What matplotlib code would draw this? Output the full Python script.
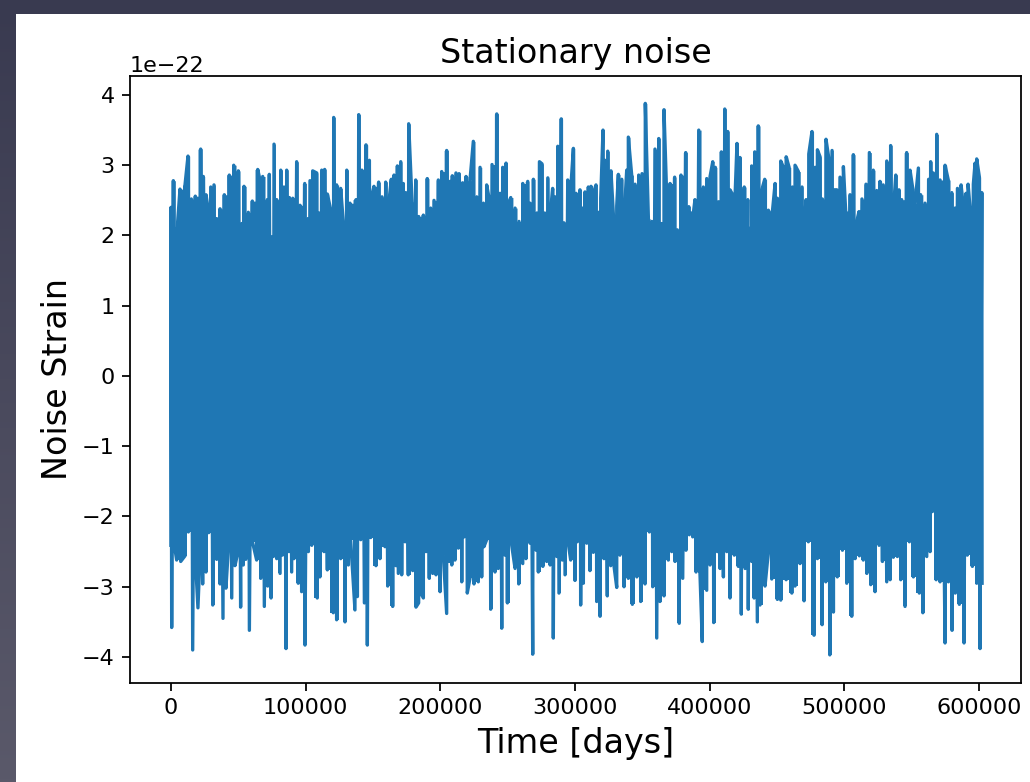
import matplotlib.pyplot as plt
from matplotlib.colors import LinearSegmentedColormap
from matplotlib.patches import Rectangle
import numpy as np

SCALE = 1e-22

top_peaks = [
    (0, 2.40), (1730, 2.78), (4700, 2.13), (6680, 2.66), (10400, 2.72), (12620, 3.13),
    (15100, 2.52), (18060, 2.56), (22030, 3.23), (24000, 2.84), (26000, 2.58), (27700, 2.36),
    (29500, 2.69), (31930, 2.72), (33900, 2.24), (36400, 2.38), (39600, 2.58), (43300, 2.86),
    (46560, 3.00), (50000, 2.92), (52500, 2.17), (54200, 2.70), (57400, 2.33), (60400, 2.49),
    (64400, 2.94), (66300, 2.77), (68100, 2.84), (71500, 2.51), (73000, 2.87), (74800, 1.98),
    (76500, 3.30), (78500, 2.51), (81500, 2.93), (83900, 2.69), (85900, 2.93), (87900, 2.54),
    (90400, 2.53), (93300, 3.05), (95800, 2.43), (99300, 2.74), (101700, 2.24), (103200, 2.78),
    (105200, 2.92), (108200, 2.89), (109900, 2.32), (111900, 2.93), (114100, 2.94), (116100, 2.59),
    (118100, 2.41), (120800, 3.68), (123000, 2.72), (126000, 2.67), (128500, 2.05), (130500, 2.93),
    (132900, 2.46), (137400, 2.51), (139400, 3.72), (141800, 2.93), (144800, 3.29), (147300, 3.07),
    (149000, 2.55), (150700, 2.70), (154200, 2.76), (156700, 2.55), (159400, 2.76), (161700, 2.46),
    (163600, 2.80), (165600, 2.86), (168100, 2.99), (170600, 3.05), (172500, 2.74), (174300, 2.61),
    (176500, 3.59), (179000, 2.48), (181700, 2.79), (183900, 2.27),
    (187400, 2.29), (190300, 2.81), (192800, 2.39), (195300, 2.50), (198500, 2.79), (201000, 2.91),
    (204700, 3.21), (207200, 2.77), (208900, 2.85), (211600, 2.89), (213900, 2.88), (215400, 2.27),
    (216600, 2.75), (219100, 2.84), (222000, 2.78), (224500, 3.34), (227000, 2.55), (229500, 2.97),
    (232000, 2.46), (234400, 2.72), (236400, 2.51), (238400, 3.01), (241900, 3.73), (244300, 2.60),
    (246300, 2.97), (248800, 3.03), (250500, 2.46), (252300, 2.54), (255500, 2.39), (258400, 2.20),
    (261200, 2.74), (264900, 2.77), (266600, 2.46), (269100, 2.80), (271600, 2.32), (273600, 3.05),
    (275500, 3.02), (277500, 2.32), (279800, 2.82), (281500, 2.27), (283400, 2.67), (285200, 2.55),
    (287200, 3.27), (289800, 3.66), (291800, 2.18), (294600, 2.79), (296800, 2.65), (298800, 3.24),
    (300800, 2.60), (303700, 2.65), (305700, 2.39), (307400, 2.62), (309900, 2.69), (311900, 2.70),
    (313600, 2.60), (315600, 2.72), (317600, 2.33), (319100, 2.53), (320800, 3.50), (322300, 3.07),
    (324300, 3.20), (326700, 2.92), (328900, 2.16), (331000, 2.42), (332200, 2.87), (334700, 2.80),
    (336400, 2.22), (338400, 2.93), (339600, 3.40), (342100, 2.86), (344600, 2.73), (347300, 2.86),
    (349800, 2.88), (352200, 3.88), (354500, 2.24), (357000, 2.20), (359400, 3.23), (362200, 3.38),
    (364100, 2.17), (366100, 3.79), (368100, 2.56), (370600, 2.74), (374000, 2.83), (376000, 2.08),
    (378700, 2.86), (382200, 3.18), (384500, 2.41), (386200, 2.32), (387400, 2.24), (389100, 2.51),
    (391900, 3.50),
    (395300, 2.69), (397800, 2.81), (400300, 2.84), (402300, 3.05), (404200, 2.97), (406500, 2.48),
    (408700, 3.19), (411200, 3.80), (413400, 3.48), (415100, 2.65), (417100, 2.58), (418600, 2.42),
    (420300, 3.31), (422500, 3.11), (424300, 2.41), (425700, 2.69), (428300, 2.51), (429500, 2.10),
    (431200, 2.99), (433500, 3.19), (436100, 3.56), (438700, 2.65), (440900, 2.80), (443600, 2.36),
    (446600, 2.34), (448600, 2.74), (450300, 2.53), (452800, 3.06), (454800, 2.97), (456800, 3.12),
    (459000, 2.97), (461400, 2.69), (463400, 3.00), (465900, 2.91), (468600, 2.69), (470100, 2.16),
    (471600, 2.51), (473600, 3.16), (476000, 3.48), (478300, 2.97), (480000, 3.22), (482000, 3.12),
    (483700, 2.52), (486400, 3.37), (488400, 3.11), (490900, 3.21), (492600, 2.65), (494400, 2.65),
    (496800, 2.83), (499300, 2.98), (501000, 2.35), (504200, 2.58), (506700, 3.15), (509200, 2.20),
    (510900, 2.34), (513100, 2.52), (516100, 2.73), (518600, 3.18), (521500, 2.93), (524000, 2.64),
    (526500, 2.77), (528900, 2.72), (531500, 3.06), (534400, 3.28), (536400, 2.34), (538200, 2.86),
    (540600, 2.65), (542600, 2.51), (546300, 3.18), (548800, 2.93), (550800, 2.67), (552500, 2.46),
    (555000, 2.96), (556700, 2.58), (559900, 2.46), (562600, 2.80), (564100, 3.05), (566100, 2.89),
    (568600, 3.44), (571100, 2.79), (574800, 3.00), (577200, 2.79), (579800, 2.61), (582200, 2.39),
    (584000, 2.67), (586700, 2.72), (588400, 2.41), (590400, 2.60), (591900, 2.73), (593900, 2.27),
    (595800, 2.73), (597100, 3.03), (598300, 3.09), (600300, 2.83), (602100, 2.61),
]

# same for the lower edge of the trace
bottom_peaks = [
    (0, -2.41), (500, -3.58), (2500, -2.41), (4200, -2.62), (7200, -2.64), (10400, -2.56),
    (12900, -2.22), (16100, -3.90), (18100, -2.60), (20000, -3.30), (22000, -2.33), (23500, -2.96),
    (26000, -2.79), (28000, -2.23), (31000, -3.26), (33900, -2.61), (36400, -2.96), (38600, -3.45),
    (40800, -3.02), (42600, -2.45), (45100, -3.16), (47500, -2.70), (50000, -2.48), (51700, -3.29),
    (53700, -2.69), (55500, -2.61), (58200, -3.62), (60600, -2.37), (63600, -2.62), (66600, -2.88),
    (69300, -3.28), (71800, -2.99), (74300, -3.16), (76000, -2.57), (78500, -2.60), (81000, -2.81),
    (82700, -2.55), (85400, -3.88), (87600, -2.50), (89600, -2.79), (91300, -2.60), (94500, -2.95),
    (97000, -3.07), (99500, -3.83), (102000, -2.50), (104500, -2.41), (108600, -3.16), (110600, -2.86),
    (113600, -2.50), (116100, -2.76), (120500, -3.37), (123000, -3.47), (126000, -2.60), (129200, -3.50),
    (131700, -2.69), (133400, -2.33), (136600, -3.33), (138400, -3.14), (140900, -2.33), (143600, -3.23),
    (145800, -3.83), (148300, -2.30), (152200, -2.70), (155200, -2.60), (158900, -2.43), (160900, -2.99),
    (164600, -3.28), (167100, -2.70), (168800, -2.81), (171300, -2.83), (173800, -2.36), (176200, -2.83),
    (179500, -2.77), (181900, -3.29), (183900, -3.23),
    (184900, -3.07), (187400, -3.16), (189400, -2.50), (191800, -2.88), (194300, -2.81), (196800, -2.83),
    (199800, -3.07), (202200, -2.55), (204700, -3.38), (206700, -2.64), (208500, -2.69), (210900, -2.62),
    (213400, -2.45), (215900, -2.93), (217800, -2.29), (220000, -3.09), (222000, -2.88), (225000, -2.96),
    (228200, -2.93), (230700, -2.86), (232400, -2.43), (234400, -2.33), (237400, -3.32), (240600, -2.79),
    (243000, -2.74), (245600, -3.59), (248000, -2.55), (249800, -3.23), (253000, -2.41), (255500, -2.74),
    (258200, -2.96), (261200, -2.67), (263600, -2.60), (266600, -2.38), (268600, -3.96), (271100, -2.48),
    (272800, -2.79), (276100, -2.71), (279000, -2.64), (281500, -2.69), (283900, -3.73), (286500, -2.57),
    (288100, -3.09), (290600, -2.62), (292600, -2.83), (295000, -2.38), (296800, -2.62), (300000, -2.91),
    (301700, -2.36), (304200, -3.26), (306200, -2.95), (308700, -2.38), (311100, -2.77), (313600, -2.51),
    (316100, -3.21), (318600, -3.42), (321500, -2.60), (324000, -3.13), (326500, -2.70), (329000, -2.71),
    (331000, -3.01), (333400, -2.55), (336400, -3.00), (339600, -2.88), (342600, -3.25), (345900, -2.86),
    (348800, -3.21), (352000, -2.96), (355200, -2.22), (357700, -3.00), (360700, -3.73), (363100, -3.21),
    (366100, -3.13), (369300, -2.62), (371800, -2.50), (374300, -2.64), (377400, -3.52), (380000, -2.88),
    (382400, -2.48), (384900, -2.26), (387400, -2.29), (389900, -2.79),
    (392800, -2.81), (394500, -3.78), (397800, -3.05), (400300, -2.69), (403000, -3.51), (405700, -2.50),
    (407700, -2.74), (410200, -2.86), (412700, -2.50), (415100, -3.16), (418300, -2.55), (421300, -2.71),
    (423500, -3.39), (426300, -2.74), (428700, -3.32), (431200, -2.64), (433000, -3.16), (435400, -3.50),
    (437400, -3.26), (441100, -2.99), (443600, -2.50), (446100, -2.89), (450300, -3.18), (452800, -3.19),
    (456800, -2.90), (461000, -3.09), (463400, -2.99), (467100, -2.67), (470100, -3.20), (473300, -2.36),
    (477500, -3.69), (480000, -2.60), (483500, -3.54), (486200, -2.93), (489200, -3.97), (491900, -3.36),
    (494800, -2.86), (498600, -2.48), (501800, -2.95), (505500, -3.42), (508000, -2.60), (511200, -2.56),
    (514100, -2.62), (516700, -2.81), (519600, -2.97), (522800, -3.07), (525800, -2.41), (528300, -2.64),
    (531500, -2.93), (534000, -2.90), (536400, -2.58), (539400, -2.57), (541900, -2.90), (545100, -3.28),
    (548300, -2.36), (551300, -2.86), (555700, -3.09), (558300, -3.37), (561200, -2.57), (563700, -2.50),
    (565400, -1.93), (568200, -2.90), (571100, -2.93), (574800, -3.80), (577300, -2.93), (580000, -3.62),
    (582400, -3.09), (585400, -3.25), (588900, -3.80), (591300, -2.55), (595100, -2.71), (598300, -2.95),
    (600800, -3.88), (602300, -2.95),
]

points = sorted(top_peaks + bottom_peaks)
days = [p[0] for p in points]
strain = [p[1] * SCALE for p in points]

top_days = [p[0] for p in top_peaks]
top_strain = [p[1] * SCALE for p in top_peaks]
bot_days = [p[0] for p in bottom_peaks]
bot_strain = [p[1] * SCALE for p in bottom_peaks]

W, H = 1030, 782
BLUE = '#1f77b4'
fig = plt.figure(figsize=(W / 100, H / 100), dpi=100)

# dark backdrop of the screenshot with the white figure on it
bg = fig.add_axes([0, 0, 1, 1], zorder=-2)
grad = np.linspace(0, 1, 256).reshape(-1, 1)
bg.imshow(grad, aspect='auto', extent=[0, 1, 0, 1],
          cmap=LinearSegmentedColormap.from_list('bg', ['#393a50', '#5a596a']))
bg.axis('off')
fig.add_artist(Rectangle((16 / W, 0), 1, 1 - 14 / H, transform=fig.transFigure,
                         facecolor='white', edgecolor='none', zorder=-1))

ax = fig.add_axes([130 / W, 99 / H, 891 / W, 607 / H])
# the trace is so dense that it reads as a solid band: fill it between the edges
ax.fill_between(top_days, -1e-22, top_strain, step='mid', color=BLUE, lw=0)
ax.fill_between(bot_days, bot_strain, 1e-22, step='mid', color=BLUE, lw=0)
ax.plot(days, strain, color=BLUE, lw=2.4)

ax.set_xlim(-30450, 631200)
ax.set_ylim(-4.37e-22, 4.27e-22)
ax.set_title('Stationary noise', fontsize=24, pad=9.5)
ax.set_xlabel('Time [days]', fontsize=24, labelpad=6)
ax.set_ylabel('Noise Strain', fontsize=24, labelpad=6)
ax.tick_params(labelsize=16, length=5.5, width=1.27, pad=5.5)
ax.yaxis.get_offset_text().set_fontsize(16)
for s in ax.spines.values():
    s.set_linewidth(1.27)

fig.savefig('out.png', dpi=100)
